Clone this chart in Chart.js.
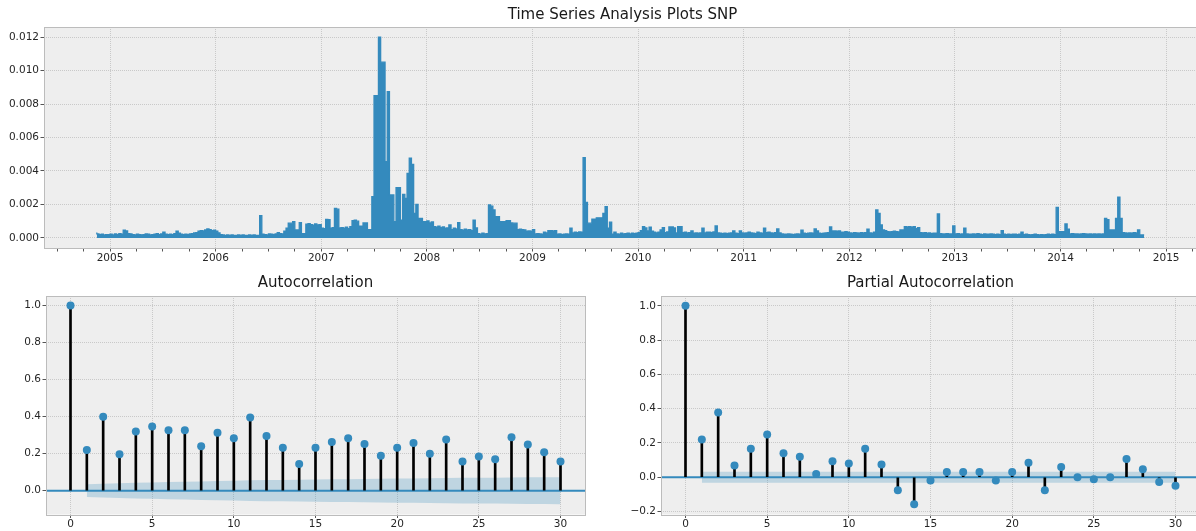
<!DOCTYPE html>
<html>
<head>
<meta charset="utf-8">
<title>Time Series Analysis Plots SNP</title>
<script src="https://cdn.jsdelivr.net/npm/chart.js@4.4.1/dist/chart.umd.min.js"></script>
<style>
  html, body { margin: 0; padding: 0; background: #fff; overflow: hidden; width: 1196px; height: 531px; }
  canvas { position: absolute; }
  #ts { left: 0; top: 0; width: 1215px; height: 270px; }
  #acf { left: 0; top: 268px; width: 600px; height: 263px; }
  #pacf { left: 615px; top: 268px; width: 600px; height: 263px; }
</style>
</head>
<body>
<canvas id="ts" width="1215" height="270"></canvas>
<canvas id="acf" width="600" height="263"></canvas>
<canvas id="pacf" width="600" height="263"></canvas>
<script>
// series values, in units of 0.0001, four samples per month (1/48 year)
const tsUnit = 1e-4;
const tsStart = 2004 + 42 / 48;
const tsStep = 1 / 48;

const ts2004 = [3.2, 2.4, 2.0, 2.2, 1.8, 2.0];
const ts2005 = [2.0,2.2,1.8,2.4, 2.0,2.6,2.2,4.6, 4.2,2.6,2.4,2.0, 1.8,2.2,2.0,1.8, 2.0,2.4,2.2,1.8, 2.0,2.2,2.6,2.0,
                2.4,3.4,2.2,2.0, 2.2,2.0,2.6,4.0, 2.8,2.2,2.0,2.2, 2.0,2.4,2.6,3.0, 3.2,4.0,4.4,4.2, 4.8,5.4,5.0,4.4];
const ts2006 = [4.6,4.0,3.0,2.0, 1.8,1.6,1.8,1.6, 1.8,1.6,1.5,1.8, 1.6,1.8,1.5,1.6, 1.8,1.6,1.8,1.6, 1.5,13.3,2.2,2.0,
                1.8,2.4,2.2,2.0, 2.4,3.2,2.6,2.4, 4.0,5.8,8.8,8.8, 9.8,4.8,4.8,9.2, 2.6,2.6,8.2,8.6, 8.0,7.6,8.4,7.8];
const ts2007 = [8.0,5.8,5.6,11.1, 11.0,5.8,6.2,17.7, 17.2,6.0,6.2,5.8, 6.4,5.6,6.8,10.3, 10.7,10.0,7.0,7.0, 9.0,9.0,5.0,5.0,
                24.7,85,85,120, 105,105,45.6,87.4, 25.7,25.7,9.8,30, 30,10.7,26,23.7, 38.6,47.6,44,14.7, 20,11.7,11.7,9.8];
const ts2008 = [9.8,10.2,9.0,9.6, 6.8,6.4,7.0,6.2, 6.6,5.8,6.0,7.8, 5.0,5.8,5.4,9.2, 5.0,4.6,5.2,4.8, 5.0,4.4,10.7,6.0,
                2.6,2.2,2.8,2.4, 2.6,19.7,19.0,16.7, 12.7,12.7,9.8,9.8, 9.8,10.3,10.3,9.0, 8.8,8.8,5.0,5.2, 5.0,4.8,4.0,4.2];
const ts2009 = [4.0,5.0,2.4,2.6, 2.4,2.2,3.4,3.0, 4.4,4.4,4.2,4.4, 2.2,2.4,2.0,2.2, 2.4,2.2,5.8,3.0, 3.4,3.2,3.6,3.4,
                48,21.3,8.8,8.8, 11.3,11.3,12.0,12.0, 12.0,14.7,18.7,5.8, 9.4,2.2,3.4,2.4, 2.2,2.8,2.4,2.6, 2.8,2.4,2.8,2.6];
const ts2010 = [2.8,3.2,4.4,6.8, 6.0,4.2,6.4,4.0, 3.4,3.0,3.4,4.8, 6.2,3.2,3.6,6.6, 6.6,6.0,3.0,6.8, 6.8,3.2,3.4,3.0,
                3.2,4.2,2.8,3.0, 2.8,3.0,5.8,3.0, 3.4,3.4,3.2,3.6, 7.2,3.0,2.8,2.6, 2.8,2.6,2.8,3.0, 4.2,2.8,2.6,4.2];
const ts2011 = [3.0,2.8,3.0,3.4, 3.0,2.8,2.6,3.4, 3.0,2.8,5.8,3.2, 3.4,3.0,2.8,3.2, 5.4,3.0,2.4,2.2, 2.2,2.4,2.2,2.0,
                2.2,2.4,2.2,4.6, 2.8,2.6,2.8,3.0, 2.8,5.4,4.2,2.8, 2.6,2.8,3.0,3.2, 6.6,4.2,4.2,4.0, 4.2,3.4,3.4,3.8];
const ts2012 = [3.4,3.0,2.8,3.2, 3.0,2.8,3.2,3.0, 3.2,5.2,3.0,2.8, 3.4,16.7,14.7,7.8, 4.8,4.4,3.8,3.6, 3.8,4.0,3.8,3.6,
                4.8,4.8,6.8,6.6, 6.8,6.4,6.8,5.6, 6.2,3.2,3.0,3.2, 2.8,3.0,2.6,2.8, 2.8,14.3,2.6,2.4, 2.4,2.6,2.4,2.4];
const ts2013 = [7.2,2.4,2.6,2.2, 2.4,5.8,2.4,2.2, 2.2,2.4,2.2,2.6, 2.2,2.0,2.4,2.2, 2.2,2.4,2.2,2.0, 2.2,2.0,4.4,2.2,
                2.0,2.2,2.0,2.2, 2.2,2.0,2.2,3.4, 2.0,2.2,2.0,1.8, 2.0,2.2,2.0,1.8, 2.0,1.8,2.0,2.2, 2.0,2.2,2.0,18.3];
const ts2014 = [3.8,3.8,3.8,8.4, 5.2,2.4,2.6,2.4, 2.4,2.2,2.4,2.6, 2.4,2.2,2.4,2.2, 2.4,2.2,2.4,2.2, 2.4,11.7,11.0,4.8,
                4.8,4.8,11.7,24.3, 11.7,3.2,3.0,2.8, 3.0,2.8,3.2,3.0, 4.8,1.8,1.8];

const tsYTicks = [0, 0.002, 0.004, 0.006, 0.008, 0.010, 0.012];
const tsYearTicks = [2005, 2006, 2007, 2008, 2009, 2010, 2011, 2012, 2013, 2014, 2015];

const lags = [0,1,2,3,4,5,6,7,8,9,10,11,12,13,14,15,16,17,18,19,20,21,22,23,24,25,26,27,28,29,30];
const lagTicks = [0, 5, 10, 15, 20, 25, 30];
const acfValues = [1.0, 0.22, 0.40, 0.196, 0.319, 0.346, 0.326, 0.326, 0.24, 0.313, 0.283,
                   0.395, 0.295, 0.232, 0.144, 0.232, 0.263, 0.283, 0.252, 0.189, 0.232,
                   0.258, 0.20, 0.276, 0.157, 0.184, 0.169, 0.288, 0.25, 0.207, 0.157];
// confidence band half widths for lags 1..30
const acfBand = [0.034,0.037,0.040,0.042,0.044,0.046,0.048,0.050,0.052,0.054,
                 0.056,0.057,0.058,0.059,0.060,0.061,0.062,0.063,0.064,0.066,
                 0.066,0.067,0.068,0.069,0.069,0.070,0.071,0.072,0.072,0.073];
const acfYTicks = [0, 0.2, 0.4, 0.6, 0.8, 1.0];

const pacfValues = [1.0, 0.221, 0.377, 0.068, 0.167, 0.249, 0.14, 0.12, 0.019, 0.093, 0.08,
                    0.167, 0.074, -0.076, -0.157, -0.019, 0.031, 0.031, 0.031, -0.019, 0.031,
                    0.085, -0.076, 0.06, 0.0, -0.012, 0.0, 0.107, 0.047, -0.027, -0.049];
const pacfBandHalfWidth = 0.032;
const pacfYTicks = [-0.2, 0, 0.2, 0.4, 0.6, 0.8, 1.0];

const BLUE = '#348ABD';
const FACE = '#eeeeee';
const EDGE = '#bcbcbc';
const GRID = '#c9c9c9';
const TICK = '#555555';
const TEXT = '#262626';

Chart.defaults.font.family = 'DejaVu Sans';
Chart.defaults.color = TEXT;

// axes face and frame, like matplotlib's bmh style
const panelFrame = {
  id: 'panelFrame',
  beforeDraw(chart) {
    const { ctx, chartArea: a } = chart;
    ctx.save();
    ctx.fillStyle = FACE;
    ctx.fillRect(a.left, a.top, a.width, a.height);
    ctx.restore();
  },
  afterDraw(chart) {
    const { ctx, chartArea: a } = chart;
    ctx.save();
    ctx.strokeStyle = EDGE;
    ctx.lineWidth = 1;
    ctx.strokeRect(Math.round(a.left) + 0.5, Math.round(a.top) + 0.5, Math.round(a.width), Math.round(a.height));
    ctx.restore();
  }
};

// horizontal line at zero, drawn right after the confidence band
const zeroLine = {
  id: 'zeroLine',
  afterDatasetDraw(chart, args) {
    if (args.index !== 2) return;
    const { ctx, chartArea: a, scales } = chart;
    const py = scales.y.getPixelForValue(0);
    ctx.save();
    ctx.strokeStyle = BLUE;
    ctx.lineWidth = 2;
    ctx.beginPath();
    ctx.moveTo(a.left, py);
    ctx.lineTo(a.right, py);
    ctx.stroke();
    ctx.restore();
  }
};

function gridOpts(colorFn) {
  return {
    color: colorFn || GRID,
    lineWidth: 1,
    drawTicks: true,
    tickLength: 3.5,
    tickColor: TICK,
    tickWidth: 1,
    tickBorderDash: [],
    offset: false
  };
}

function titleOpts(text, top, bottom) {
  return {
    display: true,
    text: text,
    fullSize: false,
    color: '#1a1a1a',
    font: { size: 15, weight: 'normal' },
    padding: { top: top, bottom: bottom }
  };
}

// ---- time series ----
const tsSeries = [].concat(ts2004, ts2005, ts2006, ts2007, ts2008, ts2009, ts2010, ts2011, ts2012, ts2013, ts2014);
const tsPoints = tsSeries.map((v, i) => ({ x: tsStart + i * tsStep, y: v * tsUnit }));

new Chart(document.getElementById('ts'), {
  type: 'line',
  data: {
    datasets: [{
      data: tsPoints,
      borderColor: BLUE,
      backgroundColor: BLUE,
      borderWidth: 1.3,
      pointRadius: 0,
      stepped: 'after',
      fill: 'origin'
    }]
  },
  options: {
    responsive: false,
    animation: false,
    events: [],
    layout: { padding: { left: 0, right: 14, top: 0, bottom: 0 } },
    plugins: {
      legend: { display: false },
      tooltip: { enabled: false },
      title: titleOpts('Time Series Analysis Plots SNP', 6, 3)
    },
    scales: {
      x: {
        type: 'linear',
        min: 2004.375,
        max: 2015.33,
        afterBuildTicks: s => {
          // yearly labels plus quarterly minor ticks
          const t = [];
          for (let y = tsYearTicks[0] - 1; y <= tsYearTicks[tsYearTicks.length - 1]; y++) {
            for (let q = 0; q < 4; q++) {
              const v = y + q / 4;
              if (v >= s.min && v <= s.max) t.push({ value: v });
            }
          }
          s.ticks = t;
        },
        afterFit: s => { s.height = 22; },
        ticks: {
          autoSkip: false, maxRotation: 0, padding: 0,
          font: { size: 10.5 },
          callback: v => tsYearTicks.includes(v) ? String(v) : ''
        },
        grid: gridOpts(c => (c.tick && tsYearTicks.includes(c.tick.value)) ? GRID : 'rgba(0,0,0,0)'),
        border: { display: false, dash: [1, 1] }
      },
      y: {
        type: 'linear',
        min: -0.0006,
        max: 0.0126,
        afterBuildTicks: s => { s.ticks = tsYTicks.map(v => ({ value: v })); },
        afterFit: s => { s.width = 44; },
        ticks: { padding: 1.5, font: { size: 10.5 }, callback: v => v.toFixed(3) },
        grid: gridOpts(),
        border: { display: false, dash: [1, 1] }
      }
    }
  },
  plugins: [panelFrame]
});

// ---- correlograms ----
function correlogram(id, title, values, halfWidths, yMin, yMax, yTicks) {
  const bandLags = lags.slice(1);
  new Chart(document.getElementById(id), {
    type: 'scatter',
    data: {
      datasets: [
        {
          type: 'scatter',
          data: lags.map((l, i) => ({ x: l, y: values[i] })),
          backgroundColor: BLUE,
          borderColor: BLUE,
          borderWidth: 0,
          pointRadius: 4,
          order: 1
        },
        {
          type: 'bar',
          data: lags.map((l, i) => ({ x: l, y: values[i] })),
          backgroundColor: '#000000',
          barThickness: 2,
          order: 2
        },
        {
          type: 'line',
          data: bandLags.map((l, i) => ({ x: l, y: halfWidths[i] })),
          borderWidth: 0,
          pointRadius: 0,
          backgroundColor: 'rgba(52,138,189,0.25)',
          fill: '+1',
          order: 3
        },
        {
          type: 'line',
          data: bandLags.map((l, i) => ({ x: l, y: -halfWidths[i] })),
          borderWidth: 0,
          pointRadius: 0,
          fill: false,
          order: 4
        }
      ]
    },
    options: {
      responsive: false,
      animation: false,
      events: [],
      layout: { padding: { left: 0, right: 15, top: 0, bottom: 0 } },
      plugins: {
        legend: { display: false },
        tooltip: { enabled: false },
        title: titleOpts(title, 6, 4)
      },
      scales: {
        x: {
          type: 'linear',
          min: -1.5,
          max: 31.5,
          offset: false,
          afterBuildTicks: s => { s.ticks = lagTicks.map(v => ({ value: v })); },
          afterFit: s => { s.height = 16.5; },
          ticks: { autoSkip: false, maxRotation: 0, padding: 0, font: { size: 10.5 }, callback: v => String(v) },
          grid: gridOpts(),
          border: { display: false, dash: [1, 1] }
        },
        y: {
          type: 'linear',
          min: yMin,
          max: yMax,
          afterBuildTicks: s => { s.ticks = yTicks.map(v => ({ value: v })); },
          afterFit: s => { s.width = 46; },
          ticks: {
            padding: 1.5,
            font: { size: 10.5 },
            callback: v => (v < -1e-9 ? '\u2212' : '') + Math.abs(v).toFixed(1)
          },
          grid: gridOpts(),
          border: { display: false, dash: [1, 1] }
        }
      }
    },
    plugins: [panelFrame, zeroLine]
  });
}

correlogram('acf', 'Autocorrelation', acfValues, acfBand, -0.129, 1.052, acfYTicks);
correlogram('pacf', 'Partial Autocorrelation', pacfValues, lags.slice(1).map(() => pacfBandHalfWidth), -0.217, 1.057, pacfYTicks);
</script>
</body>
</html>
